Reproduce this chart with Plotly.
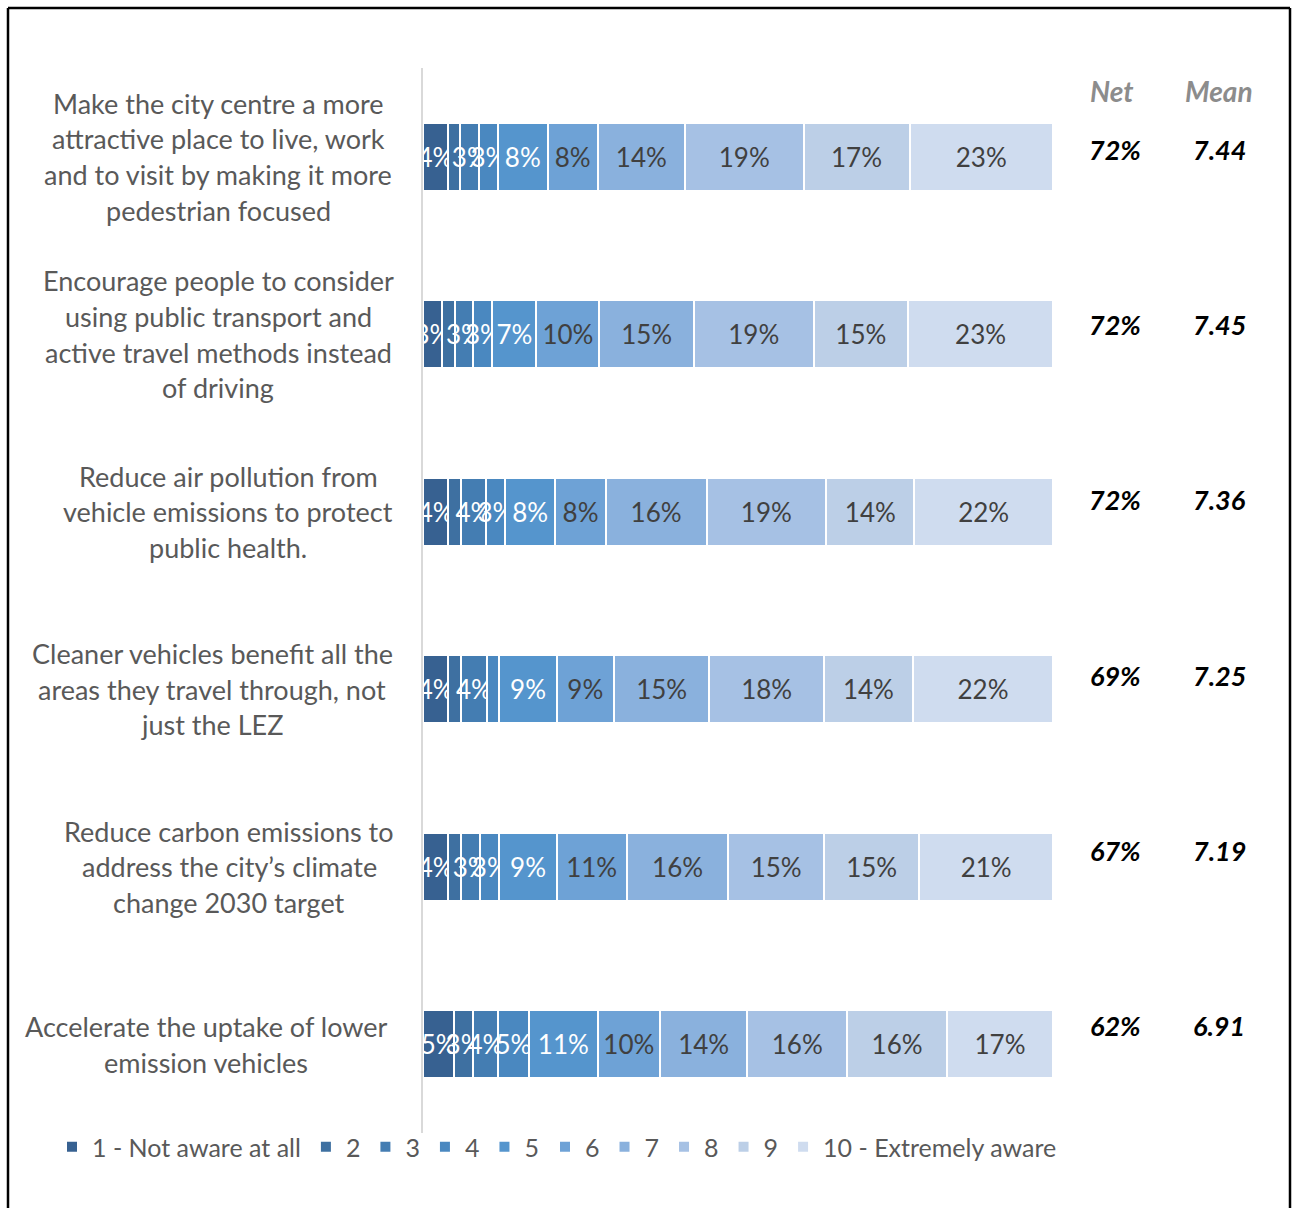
import plotly.graph_objects as go

categories = [
    "Make the city centre a more<br>attractive place to live, work<br>and to visit by making it more<br>pedestrian focused",
    "Encourage people to consider<br>using public transport and<br>active travel methods instead<br>of driving",
    "Reduce air pollution from<br>vehicle emissions to protect<br>public health.",
    "Cleaner vehicles benefit all the<br>areas they travel through, not<br>just the LEZ",
    "Reduce carbon emissions to<br>address the city\u2019s climate<br>change 2030 target",
    "Accelerate the uptake of lower<br>emission vehicles",
]

series_names = ["1 - Not aware at all", "2", "3", "4", "5", "6", "7", "8", "9", "10 - Extremely aware"]

# rows = series (score 1..10), columns = categories (top to bottom)
s1 = [4, 3, 4, 4, 4, 5]
s2 = [2, 2, 2, 2, 2, 3]
s3 = [3, 3, 4, 4, 3, 4]
s4 = [3, 3, 3, 2, 3, 5]
s5 = [8, 7, 8, 9, 9, 11]
s6 = [8, 10, 8, 9, 11, 10]
s7 = [14, 15, 16, 15, 16, 14]
s8 = [19, 19, 19, 18, 15, 16]
s9 = [17, 15, 14, 14, 15, 16]
s10 = [23, 23, 22, 22, 21, 17]
series_values = [s1, s2, s3, s4, s5, s6, s7, s8, s9, s10]

net_values = ["72%", "72%", "72%", "69%", "67%", "62%"]
mean_values = ["7.44", "7.45", "7.36", "7.25", "7.19", "6.91"]

colors = ["#376191", "#3e70a1", "#447db2", "#4a88c0", "#5595cd",
          "#6ea2d6", "#8ab1dd", "#a6c1e4", "#bccfe7", "#cfdcef"]
text_colors = ["white"] * 5 + ["#404040"] * 5

FONT = "Lato"
W, H = 1296, 1208
L, R, T, B = 423, 243, 68, 75
PH = H - T - B


def px_to_paper_x(px):
    return (px - L) / (W - L - R)


def px_to_paper_y(py):
    return (H - B - py) / PH


fig = go.Figure()
y_idx = list(range(len(categories)))
for k, (name, vals, col, tcol) in enumerate(zip(series_names, series_values, colors, text_colors)):
    fig.add_trace(go.Bar(
        name=name,
        y=y_idx,
        x=vals,
        orientation="h",
        marker=dict(color=col, line=dict(color="white", width=2)),
        text=[f"{v}%" if v > 2 else "" for v in vals],
        textposition="inside",
        insidetextanchor="middle",
        textangle=0,
        textfont=dict(color=tcol, size=26, family=FONT),
        hoverinfo="skip",
        legend="legend" if k < 5 else "legend2",
    ))

annotations = []
# category labels, one annotation per line for Excel-like line spacing
label_centers_px = [218, 218, 228, 212, 229, 206]
line_h = 35.7
for i, (cat, cx) in enumerate(zip(categories, label_centers_px)):
    lines = cat.split("<br>")
    n = len(lines)
    for j, ln in enumerate(lines):
        annotations.append(dict(
            x=px_to_paper_x(cx), xref="paper", y=i, yref="y",
            yshift=-(j - (n - 1) / 2) * line_h,
            text=ln, showarrow=False, xanchor="center", yanchor="middle",
            font=dict(family=FONT, size=27, color="#595959"),
        ))

net_x, mean_x = 1115, 1219
annotations.append(dict(x=px_to_paper_x(1111), xref="paper", y=px_to_paper_y(91), yref="paper",
                        text="<b><i>Net</i></b>", showarrow=False, xanchor="center", yanchor="middle",
                        font=dict(family=FONT, size=28, color="#8c8c8c")))
annotations.append(dict(x=px_to_paper_x(mean_x), xref="paper", y=px_to_paper_y(91), yref="paper",
                        text="<b><i>Mean</i></b>", showarrow=False, xanchor="center", yanchor="middle",
                        font=dict(family=FONT, size=28, color="#8c8c8c")))
value_y_px = [149, 324, 499, 675, 850, 1025]
for nv, mv, py in zip(net_values, mean_values, value_y_px):
    annotations.append(dict(x=px_to_paper_x(net_x), xref="paper", y=px_to_paper_y(py), yref="paper",
                            text=f"<b><i>{nv}</i></b>", showarrow=False, xanchor="center", yanchor="middle",
                            font=dict(family=FONT, size=27, color="black")))
    annotations.append(dict(x=px_to_paper_x(mean_x), xref="paper", y=px_to_paper_y(py), yref="paper",
                            text=f"<b><i>{mv}</i></b>", showarrow=False, xanchor="center", yanchor="middle",
                            font=dict(family=FONT, size=27, color="black")))

border = dict(color="black", width=2.5)
shapes = [
    dict(type="line", xref="paper", yref="paper", x0=px_to_paper_x(8), x1=px_to_paper_x(1290),
         y0=px_to_paper_y(8), y1=px_to_paper_y(8), line=border, layer="above"),
    dict(type="line", xref="paper", yref="paper", x0=px_to_paper_x(8), x1=px_to_paper_x(8),
         y0=px_to_paper_y(8), y1=px_to_paper_y(1215), line=border, layer="above"),
    dict(type="line", xref="paper", yref="paper", x0=px_to_paper_x(1290), x1=px_to_paper_x(1290),
         y0=px_to_paper_y(8), y1=px_to_paper_y(1215), line=border, layer="above"),
]

legend_style = dict(orientation="h", yanchor="middle", y=px_to_paper_y(1147),
                    xanchor="left", itemwidth=30, traceorder="normal",
                    bgcolor="rgba(0,0,0,0)", borderwidth=0,
                    font=dict(family=FONT, size=25, color="#595959"))

fig.update_layout(
    width=W, height=H,
    margin=dict(l=L, r=R, t=T, b=B, pad=0, autoexpand=False),
    barmode="stack",
    barnorm="percent",
    bargap=0.617,
    plot_bgcolor="white",
    paper_bgcolor="white",
    uniformtext=dict(minsize=26, mode="show"),
    xaxis=dict(visible=False, range=[0, 100], fixedrange=True),
    yaxis=dict(showticklabels=False, showgrid=False, zeroline=False,
               showline=True, linecolor="#d9d9d9", linewidth=2,
               autorange="reversed", ticks="", fixedrange=True),
    showlegend=True,
    legend=dict(x=px_to_paper_x(52), **legend_style),
    legend2=dict(x=px_to_paper_x(545), **legend_style),
    annotations=annotations,
    shapes=shapes,
)

fig.write_html("out.html", post_script="document.body.style.margin='0';",
               config={"displayModeBar": False})
